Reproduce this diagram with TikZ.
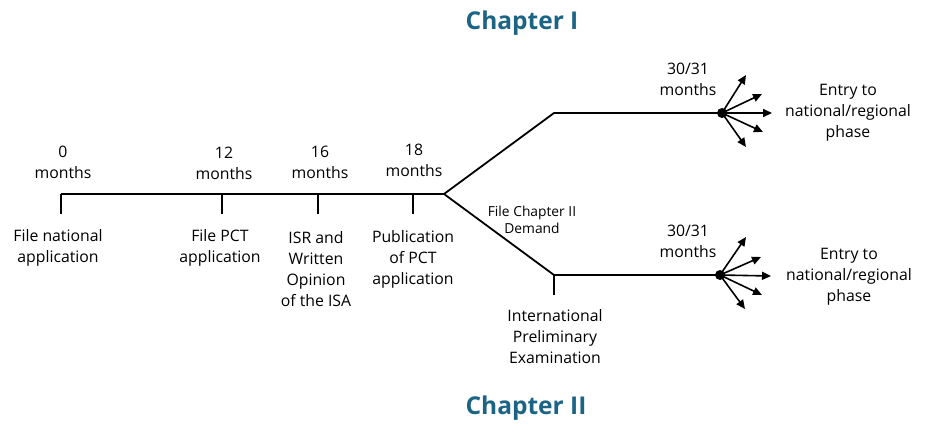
\documentclass[tikz,border=0pt]{standalone}
\usepackage{fontspec}
\setmainfont{Open Sans}
\usetikzlibrary{arrows.meta}
\definecolor{chap}{RGB}{28,100,132}
\begin{document}
\begin{tikzpicture}[x=1pt,y=-1pt,
  ln/.style={line width=1.8pt},
  arr/.style={line width=1.6pt,-{Triangle[length=9pt,width=8pt]}},
  lbl/.style={align=center,font=\fontsize{15.8}{21}\selectfont,inner sep=0pt},
  small/.style={align=center,font=\fontsize{13.8}{17}\selectfont,inner sep=0pt},
  chapter/.style={font=\fontsize{24.5}{28}\bfseries\selectfont,text=chap,inner sep=0pt}]
\useasboundingbox (0,0) rectangle (944,441);
% coordinates
\coordinate (s) at (61,194);
\coordinate (t12) at (222,194);
\coordinate (t16) at (318,194);
\coordinate (t18) at (413,194);
\coordinate (br) at (444,194);
\coordinate (uc) at (554,113);
\coordinate (ud) at (722,113);
\coordinate (lc) at (554,275);
\coordinate (ld) at (720,275);
\coordinate (s0) at (61,214);
\coordinate (s12) at (222,214);
\coordinate (s16) at (318,214);
\coordinate (s18) at (413,214);
\coordinate (slc) at (554,295);
% upper arrow tips
\coordinate (ua1) at (746,75);
\coordinate (ua2) at (762,94);
\coordinate (ua3) at (772,113);
\coordinate (ua4) at (763,132);
\coordinate (ua5) at (746,147);
% lower arrow tips
\coordinate (la1) at (746,237);
\coordinate (la2) at (761,257);
\coordinate (la3) at (771,276);
\coordinate (la4) at (762,295);
\coordinate (la5) at (745,309);
% lines
\draw[ln] (s) -- (br);
\draw[ln] (s) -- (s0);
\draw[ln] (t12) -- (s12);
\draw[ln] (t16) -- (s16);
\draw[ln] (t18) -- (s18);
\draw[ln,line join=miter] (br) -- (uc) -- (ud);
\draw[ln,line join=miter] (br) -- (lc) -- (ld);
\draw[ln] (lc) -- (slc);
\fill (ud) circle (5pt);
\fill (ld) circle (5pt);
\foreach \i in {1,...,5} {
  \draw[arr] (ud) -- (ua\i);
  \draw[arr] (ld) -- (la\i);
}
% texts
\node[chapter] (c1) at (522,23) {Chapter I};
\node[chapter] (c2) at (526,408) {Chapter II};
\node[lbl] (m0) at (63,162) {0\\months};
\node[lbl] (m12) at (224,163) {12\\months};
\node[lbl] (m16) at (320,162) {16\\months};
\node[lbl] (m18) at (414,160) {18\\months};
\node[lbl] (b0) at (58,248) {File national\\application};
\node[lbl] (b12) at (220,248) {File PCT\\application};
\node[lbl] (b16) at (316,269) {ISR and\\Written\\Opinion\\of the ISA};
\node[lbl] (b18) at (413,259) {Publication\\of PCT\\application};
\node[lbl] (um) at (688,79) {30/31\\months};
\node[lbl] (lm) at (688,241) {30/31\\months};
\node[lbl] (ue) at (848,113) {Entry to\\national/regional\\phase};
\node[lbl] (le) at (849,277) {Entry to\\national/regional\\phase};
\node[small] (dem) at (532,220) {File Chapter II\\Demand};
\node[lbl] (ipe) at (555,337) {International\\Preliminary\\Examination};
\end{tikzpicture}
\end{document}
